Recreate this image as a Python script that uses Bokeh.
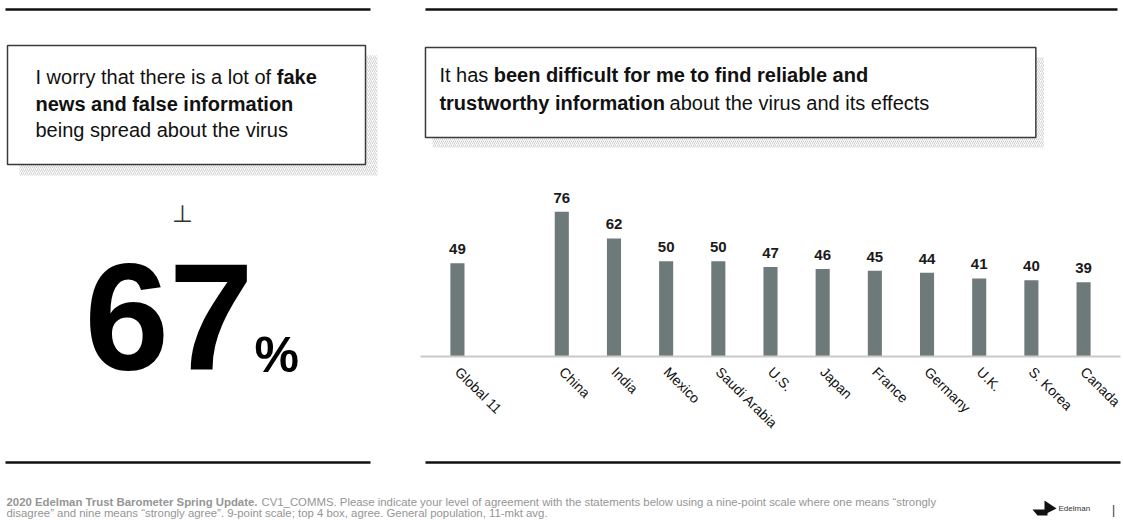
from bokeh.plotting import figure
from bokeh.layouts import column, row
from bokeh.models import Range1d, FactorRange
from bokeh.core.properties import value
from bokeh.embed import file_html
from bokeh.resources import INLINE

# ---------------- data ----------------
categories = ["Global 11", "China", "India", "Mexico", "Saudi Arabia", "U.S.",
              "Japan", "France", "Germany", "U.K.", "S. Korea", "Canada"]
values = [49, 76, 62, 50, 50, 47, 46, 45, 44, 41, 40, 39]
headline_value = 67

left_title = [("I worry that there is a lot of ", False), ("fake", True)]
left_title2 = [("news and false information", True)]
left_title3 = [("being spread about the virus", False)]
right_title1 = [("It has ", False), ("been difficult for me to find reliable and", True)]
right_title2 = [("trustworthy information", True), (" about the virus and its effects", False)]
footer1 = [("2020 Edelman Trust Barometer Spring Update.", True),
           (" CV1_COMMS. Please indicate your level of agreement with the statements below using a nine-point scale where one means \u201cstrongly", False)]
footer2 = [("disagree\u201d and nine means \u201cstrongly agree\u201d. 9-point scale; top 4 box, agree. General population, 11-mkt avg.", False)]

FONT = "Liberation Sans"
BAR = "#6e7a7a"
SHIFT = 0.36  # renderer places 'alphabetic' text this many em too low; compensate

# Arial-compatible advance widths (per 1000 em) for laying out mixed-weight runs
_reg = dict(zip(" !\"#$%&'()*+,-./0123456789:;<=>?", [278,278,355,556,556,889,667,191,333,333,389,584,278,333,278,278]+[556]*10+[278,278,584,584,584,556]))
_reg.update(dict(zip("ABCDEFGHIJKLMNOPQRSTUVWXYZ", [667,667,722,722,667,611,778,722,278,500,667,556,833,722,778,667,778,722,667,611,722,667,944,667,667,611])))
_reg.update(dict(zip("abcdefghijklmnopqrstuvwxyz", [556,556,500,556,556,278,556,556,222,222,500,222,833,556,556,556,556,333,500,278,556,500,722,500,500,500])))
_reg.update({"_": 556, "\u201c": 333, "\u201d": 333})
_bold = dict(zip(" !\"#$%&'()*+,-./0123456789:;<=>?", [278,333,474,556,556,889,722,238,333,333,389,584,278,333,278,278]+[556]*10+[333,333,584,584,584,611]))
_bold.update(dict(zip("ABCDEFGHIJKLMNOPQRSTUVWXYZ", [722,722,722,722,667,611,778,722,278,556,722,611,833,722,778,667,778,722,667,611,722,667,944,667,667,611])))
_bold.update(dict(zip("abcdefghijklmnopqrstuvwxyz", [556,611,556,611,556,333,611,611,278,278,556,278,889,611,611,611,611,389,556,333,611,556,778,556,556,500])))
_bold.update({"_": 556, "\u201c": 500, "\u201d": 500})


def em_width(s, bold):
    t = _bold if bold else _reg
    return sum(t.get(c, 556) for c in s) / 1000.0


def txt(fig, x, y, s, size, bold=False, color="#111111", font=FONT, align="left"):
    fig.text(x=[x], y=[y - SHIFT * size], text=[s], text_font=value(font),
             text_font_size=f"{size}px", text_font_style="bold" if bold else "normal",
             text_color=color, text_align=align, text_baseline="alphabetic")


def runs(fig, x, y, parts, size, color="#111111"):
    cx = x
    for s, b in parts:
        stripped = s.lstrip(" ")
        lead = s[: len(s) - len(stripped)]
        cx += em_width(lead, b) * size
        txt(fig, cx, y, stripped, size, b, color)
        cx += em_width(stripped, b) * size


def clean(fig):
    fig.grid.visible = False
    fig.outline_line_color = None
    fig.background_fill_color = "white"
    fig.border_fill_color = "white"


def canvas(w, h, x0, y0):
    f = figure(width=w, height=h, x_range=Range1d(x0, x0 + w), y_range=Range1d(y0 + h, y0),
               output_backend="svg", toolbar_location=None,
               x_axis_location=None, y_axis_location=None, min_border=0)
    clean(f)
    return f


# ---------------- left panel ----------------
left = canvas(420, 440, 0, 0)
left.segment(x0=[5], y0=[9], x1=[370], y1=[9], line_width=2.5, line_color="#111111")
left.quad(left=[365, 19], right=[377, 377], top=[55, 164], bottom=[164, 175],
          fill_color="white", line_color=None, hatch_pattern="/", hatch_color="#cfcfcf",
          hatch_weight=1, hatch_scale=4)
left.quad(left=[7], right=[365], top=[45], bottom=[164], fill_color="white",
          line_color="#3a3a3a", line_width=1.5)
runs(left, 35, 84, left_title, 20)
runs(left, 35, 111, left_title2, 20)
runs(left, 35, 137, left_title3, 20)
txt(left, 182, 222, "\u22a5", 24, color="#333333", font="DejaVu Sans", align="center")
txt(left, 84, 372, str(headline_value), 152, bold=True, color="#000000")
txt(left, 254, 372, "%", 50, bold=True, color="#000000")

# ---------------- right panel: heading ----------------
rtop = canvas(703, 150, 420, 0)
rtop.segment(x0=[425], y0=[9], x1=[1120], y1=[9], line_width=2.5, line_color="#111111")
rtop.quad(left=[1038, 432], right=[1046, 1046], top=[57, 137], bottom=[137, 147],
          fill_color="white", line_color=None, hatch_pattern="/", hatch_color="#cfcfcf",
          hatch_weight=1, hatch_scale=4)
rtop.quad(left=[425], right=[1038], top=[47], bottom=[137], fill_color="white",
          line_color="#3a3a3a", line_width=1.5)
runs(rtop, 439, 82, right_title1, 20)
runs(rtop, 439, 110, right_title2, 20)

# ---------------- right panel: bar chart ----------------
factors = [categories[0], " "] + categories[1:]
chart = figure(width=703, height=290,
               x_range=FactorRange(factors=factors, range_padding=0.208, range_padding_units="absolute"),
               y_range=Range1d(0, 108.2),
               output_backend="svg", toolbar_location=None, y_axis_location=None,
               min_border_left=0, min_border_right=3, min_border_top=0, min_border_bottom=84)
clean(chart)
chart.vbar(x=categories, top=values, bottom=0, width=0.27, fill_color=BAR, line_color=None)
chart.text(x=categories, y=values, text=[str(v) for v in values], text_font=value(FONT),
           text_font_size="15px", text_font_style="bold", text_color="#1a1a1a",
           text_align="center", text_baseline="alphabetic", y_offset=-14)

ax = chart.xaxis[0]
ax.major_label_orientation = -0.78
ax.major_tick_line_color = None
ax.minor_tick_line_color = None
ax.axis_line_color = "#c9c9c9"
ax.axis_line_width = 2
ax.major_label_text_font = FONT
ax.major_label_text_font_size = "14px"
ax.major_label_text_color = "#111111"
ax.major_label_standoff = 7

# ---------------- footer ----------------
footer = canvas(1123, 80, 0, 440)
footer.segment(x0=[5, 425], y0=[462, 462], x1=[370, 1120], y1=[462, 462],
               line_width=2.5, line_color="#111111")
fs = 930 / sum(em_width(s, b) for s, b in footer1)
runs(footer, 6, 506, footer1, fs, color="#959595")
runs(footer, 6, 516.5, footer2, fs, color="#959595")
footer.patch(x=[1044, 1056, 1044], y=[500, 508, 514], fill_color="#111111", line_color=None)
footer.patch(x=[1032, 1047, 1047, 1037], y=[509, 509, 515, 515], fill_color="#111111", line_color=None)
txt(footer, 1058, 511, "Edelman", 8, color="#333333")
txt(footer, 1113, 514, "|", 12, color="#333333", align="center")

layout = column(row(left, column(rtop, chart)), footer)
open("out.html", "w").write(file_html(layout, INLINE))
